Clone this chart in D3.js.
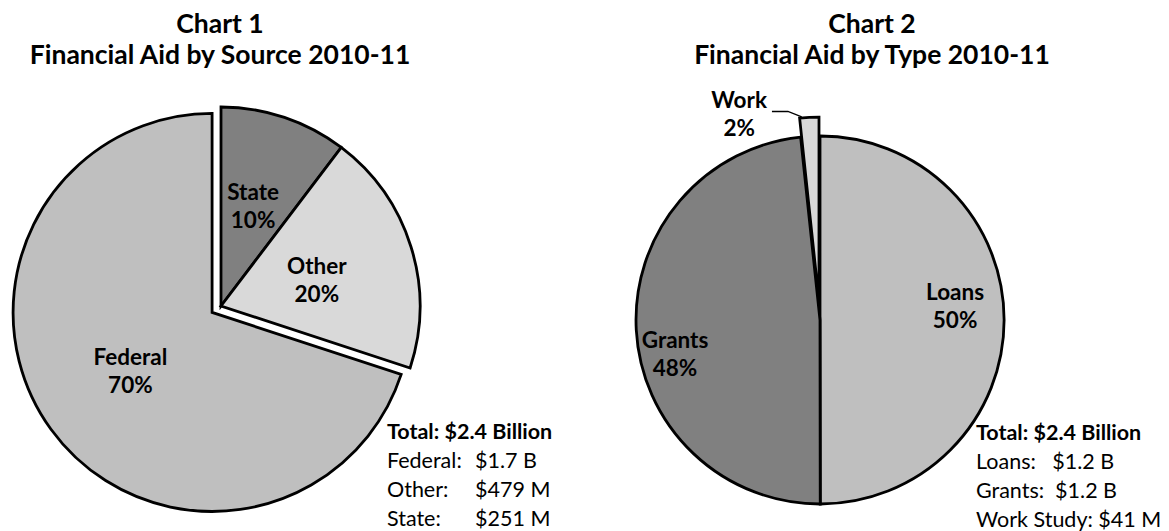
<!DOCTYPE html>
<html>
<head>
<meta charset="utf-8">
<script src="https://cdn.jsdelivr.net/npm/d3@7"></script>
<style>
  body { margin: 0; background: #fff; }
  text { font-family: Lato, "Open Sans", sans-serif; fill: #000; }
</style>
</head>
<body>
<svg id="chart" width="1169" height="531"></svg>
<script>
// ---- Chart 1: aid by source (millions of dollars), clockwise from 12 o'clock
const sourceCategories = ["State", "Other", "Federal"];
const sourceValues = [251, 479, 1700];
const sourceTotalNames = ["Federal:", "Other:", "State:"];
const sourceTotalOrder = ["Federal", "Other", "State"];

// ---- Chart 2: aid by type (millions of dollars), clockwise from 12 o'clock
const typeCategories = ["Loans", "Grants", "Work"];
const typeValues = [1220, 1180, 41];
const typeTotalNames = ["Loans:  ", "Grants: ", "Work Study:"];
const typeTotalOrder = ["Loans", "Grants", "Work"];

const titles = [
  ["Chart 1", "Financial Aid by Source 2010-11"],
  ["Chart 2", "Financial Aid by Type 2010-11"]
];

// layout and styling of each pie
const layouts = [
  {
    cx: 221, cy: 306, r: 199, titleX: 220,
    exploded: "Federal", explode: 11,
    fills: { State: "#808080", Other: "#d9d9d9", Federal: "#bfbfbf" },
    // label anchor in polar form relative to the slice's own centre: [fraction of radius, degrees]
    labelPolar: { State: [0.49, 19.2], Other: [0.49, 79.4], Federal: [0.53, 230.8] },
    totalsX: 387, valueX: 475, totalsY: 439, leader: null
  },
  {
    cx: 820, cy: 320, r: 184, titleX: 872,
    exploded: "Work", explode: 19,
    fills: { Loans: "#bfbfbf", Grants: "#808080", Work: "#d9d9d9" },
    labelPolar: { Loans: [0.735, 87.3], Grants: [0.82, 253.9], Work: [1.063, 335.9] },
    totalsX: 976, valueX: null, totalsY: 440, leader: "Work"
  }
];

const svg = d3.select("#chart");
const pct = d3.format(".0%");
const money = v => v >= 1000 ? `$${(v / 1000).toFixed(1)} B` : `$${v} M`;
const lineGap = 29;
const titleSize = 26.5, labelSize = 22.5, totalSize = 21.5;

function drawPie(categories, values, totalNames, totalOrder, title, L) {
  const g = svg.append("g");
  const data = categories.map((c, i) => ({ name: c, value: values[i] }));
  const total = d3.sum(values);

  // title
  title.forEach((t, i) => {
    g.append("text")
      .attr("x", L.titleX).attr("y", i === 0 ? 33 : 64)
      .attr("text-anchor", "middle")
      .attr("font-size", titleSize).attr("font-weight", 700)
      .text(t);
  });

  const pie = d3.pie().sort(null).value(d => d.value);
  const arcs = pie(data);
  const arc = d3.arc().innerRadius(0).outerRadius(L.r);

  const sliceOffset = a => {
    if (a.data.name !== L.exploded) return [0, 0];
    const mid = (a.startAngle + a.endAngle) / 2;
    return d3.pointRadial(mid, L.explode);
  };

  const pieG = g.append("g").attr("transform", `translate(${L.cx},${L.cy})`);

  pieG.selectAll("path.slice")
    .data(arcs)
    .join("path")
    .attr("class", "slice")
    .attr("transform", a => `translate(${sliceOffset(a)})`)
    .attr("d", arc)
    .attr("fill", a => L.fills[a.data.name])
    .attr("stroke", "#000")
    .attr("stroke-width", 2.8)
    .attr("stroke-linejoin", "miter");

  // slice labels: category name and share
  arcs.forEach(a => {
    const [ox, oy] = sliceOffset(a);
    const [f, deg] = L.labelPolar[a.data.name];
    const [lx, ly] = d3.pointRadial(deg * Math.PI / 180, f * L.r);
    const x = ox + lx, y = oy + ly;
    const t1 = pieG.append("text")
      .attr("x", x).attr("y", y - 14)
      .attr("text-anchor", "middle")
      .attr("font-size", labelSize).attr("font-weight", 700)
      .text(a.data.name);
    pieG.append("text")
      .attr("x", x).attr("y", y + 14)
      .attr("text-anchor", "middle")
      .attr("font-size", labelSize).attr("font-weight", 700)
      .text(pct(a.value / total));

    // leader from an outside label to its slice
    if (L.leader === a.data.name) {
      const w = t1.node().getComputedTextLength();
      const sx = x + w / 2 + 5, sy = y - 14 + 3;
      const [ex, ey] = d3.pointRadial(a.startAngle + 0.012, L.r + 1);
      pieG.append("path")
        .attr("d", d3.line()([[sx, sy], [sx + 16, sy], [ox + ex, oy + ey]]))
        .attr("fill", "none")
        .attr("stroke", "#000")
        .attr("stroke-width", 1.3);
    }
  });

  // totals block
  g.append("text")
    .attr("x", L.totalsX).attr("y", L.totalsY)
    .attr("font-size", totalSize).attr("font-weight", 700)
    .text(`Total: ${money(total).replace(" B", " Billion")}`);

  totalOrder.forEach((name, i) => {
    const v = values[categories.indexOf(name)];
    const y = L.totalsY + lineGap * (i + 1);
    if (L.valueX != null) {
      g.append("text").attr("x", L.totalsX).attr("y", y)
        .attr("font-size", totalSize).text(totalNames[i]);
      g.append("text").attr("x", L.valueX).attr("y", y)
        .attr("font-size", totalSize).text(money(v));
    } else {
      g.append("text").attr("x", L.totalsX).attr("y", y)
        .attr("font-size", totalSize).style("white-space", "pre")
        .text(`${totalNames[i]} ${money(v)}`);
    }
  });
}

drawPie(sourceCategories, sourceValues, sourceTotalNames, sourceTotalOrder, titles[0], layouts[0]);
drawPie(typeCategories, typeValues, typeTotalNames, typeTotalOrder, titles[1], layouts[1]);
</script>
</body>
</html>
